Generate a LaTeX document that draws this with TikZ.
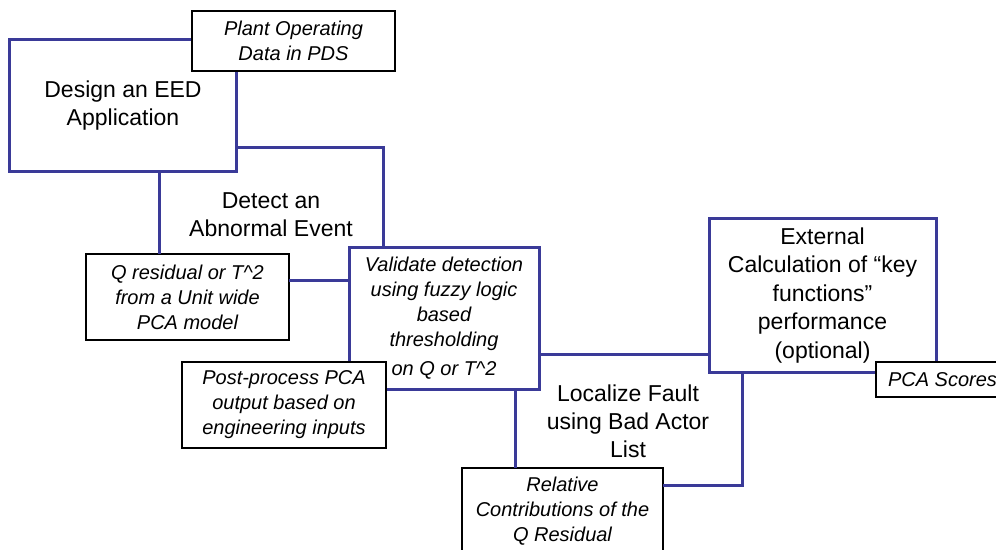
\documentclass[tikz,border=0pt]{standalone}
\usepackage{fontspec}
\setmainfont{Liberation Sans}
\usepackage{tikz}
\usetikzlibrary{calc}
\usetikzlibrary{positioning}
\usepackage{xcolor}
\definecolor{idefblue}{RGB}{58,58,152}
\tikzset{
actbox/.style={draw=idefblue,
  line width=3bp,
    fill=white,
    inner sep=0pt, outer sep=0pt,
    align=center,
    font=\fontsize{23bp}{28bp}\selectfont},
databox/.style={draw=black,
  line width=1.3bp,
    fill=white,
    inner sep=0pt, outer sep=0pt,
    align=center,
    font=\fontsize{20bp}{25bp}\selectfont\itshape},
acttext/.style={align=center,
  font=\fontsize{23bp}{28bp}\selectfont},
link/.style={draw=idefblue, line width=3bp},
}
\begin{document}
\begin{tikzpicture}[x=1bp,y=-1bp]
  \fill [white] (0,0) rectangle (996,550);
  \useasboundingbox (0,0) rectangle (996,550);

  % Activities
  \node [actbox, minimum width=226bp, minimum height=132bp] (design) at (123,106) {Design an EED\\Application};
  \node [actbox, minimum width=190bp, minimum height=141bp] (validate) at (444,318.5) {};
  \node [actbox, minimum width=227bp, minimum height=153bp, font=\fontsize{23bp}{28.5bp}\selectfont] (external) at (822.5,295.5) {External\\Calculation of “key\\functions”\\performance\\(optional)};
  \node [acttext] (detect) at (271,215) {Detect an\\Abnormal Event};
  \node [acttext] (localize) at (628,421) {Localize Fault\\using Bad Actor\\List};

  % Data
  \node [databox, minimum width=203bp, minimum height=60bp] (plant) at (293.5,41) {Plant Operating\\Data in PDS};
  \node [databox, minimum width=203bp, minimum height=86bp] (qres) at (187.5,297) {Q residual or T\textasciicircum2\\from a Unit wide\\PCA model};
  \node [font=\fontsize{20bp}{25bp}\selectfont\itshape, align=center] (valtext) at (444,318) {Validate detection\\using fuzzy logic\\based\\thresholding\\[4bp]on Q or T\textasciicircum2};
  \node [databox, minimum width=204bp, minimum height=86bp] (post) at (284,405) {Post-process PCA\\output based on\\engineering inputs};
  \node [databox, minimum width=133bp, minimum height=35bp] (scores) at (942.5,379.5) {PCA Scores};
  \node [databox, minimum width=201bp, minimum height=86bp] (relative) at (562.5,511) {Relative\\Contributions of the\\Q Residual};

  % Connections
  \draw [link] ([xshift=36bp]design.south) -- ([xshift=36bp]design.south |- qres.north);
  \draw [link] ([yshift=-42bp]design.east) -| ([xshift=-61bp]validate.north);
  \draw [link] ([yshift=16bp]qres.east) -- ([yshift=16bp]qres.east -| validate.west);
  \draw [link] ([xshift=71bp]validate.south) -- ([xshift=71bp]validate.south |- relative.north);
  \draw [link] ([yshift=-35.5bp]validate.east) -- ([yshift=-35.5bp]validate.east -| external.west);
  \draw [link] ([xshift=-80.5bp]external.south) |- ([yshift=26bp]relative.east);
\end{tikzpicture}
\end{document}
